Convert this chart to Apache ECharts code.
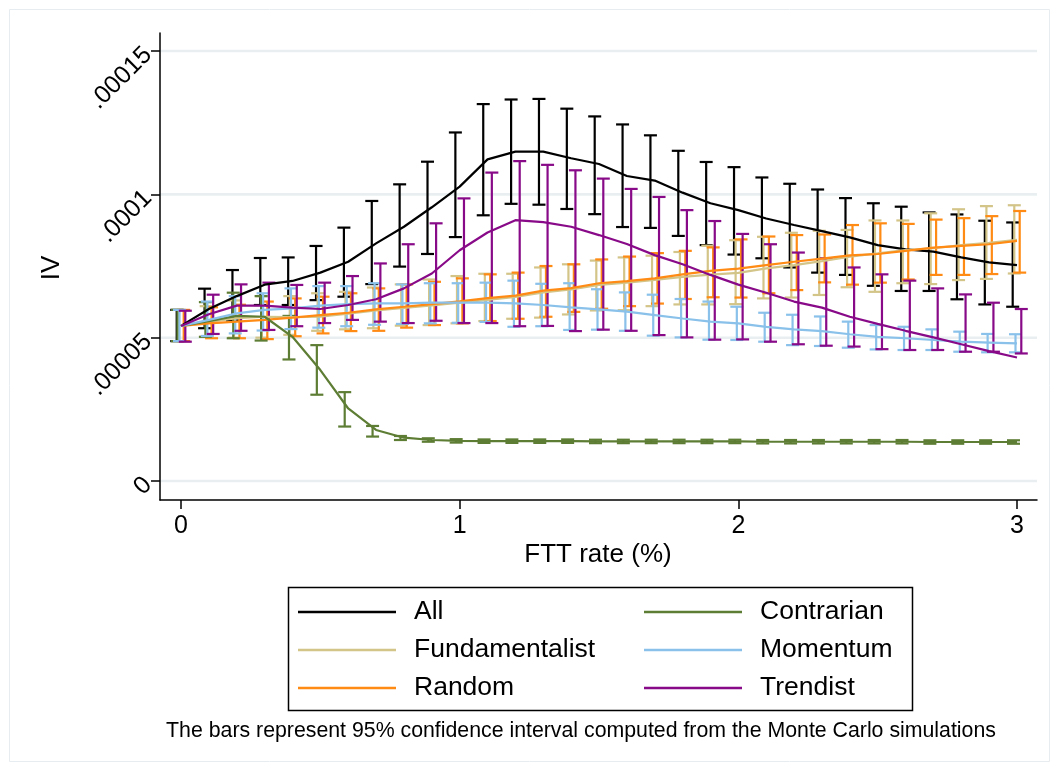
<!DOCTYPE html>
<html>
<head>
<meta charset="utf-8">
<script src="https://cdn.jsdelivr.net/npm/echarts@6/dist/echarts.min.js"></script>
<style>
  html, body { margin: 0; padding: 0; background: #ffffff; }
  #chart { width: 1054px; height: 766px; }
</style>
</head>
<body>
<div id="chart"></div>
<script>
// IV values are written in units of 1e-5 and scaled when the series are built.
const UNIT = 1e-5;

// FTT rate (%)
const fttRate = [0, 0.1, 0.2, 0.3, 0.4, 0.5, 0.6, 0.7, 0.8, 0.9, 1.0, 1.1, 1.2, 1.3, 1.4, 1.5,
                 1.6, 1.7, 1.8, 1.9, 2.0, 2.1, 2.2, 2.3, 2.4, 2.5, 2.6, 2.7, 2.8, 2.9, 3.0];

const allMean = [5.41, 6.00, 6.45, 6.85, 6.98, 7.27, 7.65, 8.29, 8.87, 9.55, 10.27, 11.22, 11.49, 11.49, 11.26, 11.06,
                 10.64, 10.48, 10.06, 9.69, 9.45, 9.16, 8.93, 8.72, 8.50, 8.23, 8.08, 8.00, 7.80, 7.63, 7.53];
const allLo   = [4.88, 5.33, 5.60, 6.14, 6.14, 6.31, 6.43, 6.87, 7.48, 7.92, 8.51, 9.27, 9.67, 9.64, 9.49, 9.31,
                 8.86, 8.83, 8.55, 8.23, 7.90, 7.77, 7.45, 7.27, 7.19, 6.81, 6.63, 6.63, 6.34, 6.16, 6.08];
const allHi   = [5.97, 6.71, 7.36, 7.78, 7.80, 8.20, 8.84, 9.77, 10.35, 11.14, 12.16, 13.15, 13.31, 13.33, 12.99, 12.72,
                 12.44, 12.06, 11.52, 11.13, 10.95, 10.59, 10.37, 10.17, 9.87, 9.69, 9.57, 9.37, 9.30, 9.08, 9.02];

const fundMean = [5.41, 5.55, 5.68, 5.73, 5.72, 5.73, 5.84, 5.95, 6.04, 6.13, 6.22, 6.32, 6.42, 6.58, 6.68, 6.84,
                  6.92, 7.02, 7.12, 7.20, 7.26, 7.42, 7.53, 7.67, 7.83, 7.94, 8.06, 8.12, 8.23, 8.31, 8.41];
const fundLo   = [4.88, 5.03, 5.00, 5.00, 5.10, 5.24, 5.29, 5.33, 5.42, 5.44, 5.50, 5.58, 5.66, 5.70, 5.81, 5.95,
                  5.96, 6.10, 6.16, 6.16, 6.17, 6.37, 6.40, 6.49, 6.76, 6.60, 6.90, 6.87, 7.01, 7.05, 7.24];
const fundHi   = [5.97, 6.10, 6.30, 6.45, 6.45, 6.55, 6.60, 6.75, 6.86, 7.03, 7.15, 7.23, 7.23, 7.45, 7.56, 7.69,
                  7.80, 7.86, 7.99, 8.21, 8.40, 8.52, 8.66, 8.73, 8.76, 9.09, 9.09, 9.34, 9.48, 9.59, 9.62];

const randMean = [5.41, 5.50, 5.56, 5.62, 5.70, 5.79, 5.87, 5.99, 6.08, 6.17, 6.27, 6.38, 6.47, 6.64, 6.73, 6.90,
                  6.97, 7.07, 7.21, 7.33, 7.41, 7.53, 7.65, 7.76, 7.87, 7.92, 8.03, 8.14, 8.20, 8.26, 8.38];
const randLo   = [4.88, 4.98, 4.98, 4.95, 5.05, 5.15, 5.23, 5.24, 5.35, 5.44, 5.50, 5.58, 5.66, 5.73, 5.90, 6.01,
                  6.10, 6.19, 6.35, 6.41, 6.40, 6.55, 6.66, 6.93, 6.85, 6.92, 7.03, 7.19, 7.19, 7.22, 7.27];
const randHi   = [5.97, 6.06, 6.15, 6.26, 6.37, 6.43, 6.55, 6.72, 6.86, 6.95, 7.07, 7.21, 7.27, 7.50, 7.56, 7.73,
                  7.83, 7.95, 8.03, 8.15, 8.43, 8.53, 8.58, 8.60, 8.93, 8.99, 8.97, 9.12, 9.17, 9.24, 9.42];

const contMean = [5.41, 5.58, 5.76, 5.73, 5.03, 3.87, 2.53, 1.78, 1.51, 1.43, 1.40, 1.39, 1.39, 1.39, 1.39, 1.38,
                  1.38, 1.38, 1.38, 1.38, 1.38, 1.37, 1.37, 1.37, 1.37, 1.37, 1.37, 1.36, 1.36, 1.36, 1.36];
const contLo   = [4.88, 5.03, 4.98, 4.90, 4.24, 3.01, 1.90, 1.55, 1.43, 1.37, 1.34, 1.33, 1.33, 1.33, 1.33, 1.32,
                  1.32, 1.32, 1.32, 1.32, 1.32, 1.31, 1.31, 1.31, 1.31, 1.31, 1.31, 1.30, 1.30, 1.30, 1.30];
const contHi   = [5.97, 6.24, 6.57, 6.45, 5.76, 4.74, 3.10, 1.92, 1.57, 1.49, 1.46, 1.45, 1.45, 1.45, 1.45, 1.44,
                  1.44, 1.44, 1.44, 1.44, 1.44, 1.43, 1.43, 1.43, 1.43, 1.43, 1.43, 1.42, 1.42, 1.42, 1.42];

const momMean = [5.41, 5.62, 5.85, 5.97, 6.02, 6.12, 6.17, 6.20, 6.20, 6.22, 6.22, 6.22, 6.20, 6.14, 6.06, 5.99,
                 5.91, 5.79, 5.67, 5.56, 5.50, 5.38, 5.29, 5.23, 5.12, 5.03, 4.98, 4.92, 4.86, 4.83, 4.80];
const momLo   = [4.88, 5.06, 5.15, 5.25, 5.30, 5.35, 5.40, 5.45, 5.48, 5.50, 5.52, 5.55, 5.38, 5.40, 5.27, 5.28,
                 5.24, 5.07, 5.01, 4.93, 4.92, 4.86, 4.74, 4.71, 4.65, 4.59, 4.57, 4.57, 4.51, 4.49, 4.49];
const momHi   = [5.97, 6.26, 6.45, 6.55, 6.72, 6.80, 6.80, 6.90, 6.86, 6.90, 6.90, 6.92, 6.99, 6.88, 6.90, 6.69,
                 6.58, 6.50, 6.35, 6.26, 6.08, 5.87, 5.80, 5.74, 5.56, 5.44, 5.38, 5.29, 5.21, 5.13, 5.12];

const trendMean = [5.41, 5.82, 6.12, 6.12, 6.05, 6.00, 6.14, 6.34, 6.72, 7.24, 8.05, 8.67, 9.10, 9.03, 8.87, 8.58,
                   8.27, 7.88, 7.56, 7.19, 6.85, 6.57, 6.26, 6.05, 5.73, 5.48, 5.24, 5.01, 4.77, 4.53, 4.31];
const trendLo   = [4.86, 5.13, 5.24, 5.27, 5.40, 5.51, 5.62, 5.56, 5.51, 5.59, 5.51, 5.51, 5.40, 5.41, 5.23, 5.28,
                   5.24, 5.09, 5.01, 4.93, 4.94, 4.86, 4.77, 4.72, 4.69, 4.60, 4.57, 4.57, 4.51, 4.51, 4.45];
const trendHi   = [5.94, 6.50, 6.86, 6.92, 6.84, 6.92, 7.15, 7.59, 8.26, 8.99, 9.86, 10.76, 11.16, 11.03, 10.84, 10.55,
                   10.19, 9.91, 9.45, 9.07, 8.62, 8.26, 7.97, 7.77, 7.45, 7.21, 6.99, 6.72, 6.51, 6.22, 6.00];

// Axis ticks
const xTickValues = [0, 1, 2, 3];
const xTickLabels = ['0', '1', '2', '3'];
const yTickValues = [0, 5, 10, 15];          // in units of 1e-5
const yTickLabels = ['0', '.00005', '.0001', '.00015'];

const FONT = '"Liberation Sans", Arial, Helvetica, sans-serif';

// Series definitions: legend name, colour, horizontal shift of the CI caps (px)
const groups = [
  { name: 'All',            color: '#000000', mean: allMean,   lo: allLo,   hi: allHi,   shift: -4.3 },
  { name: 'Fundamentalist', color: '#d3c488', mean: fundMean,  lo: fundLo,  hi: fundHi,  shift: -2.7 },
  { name: 'Random',         color: '#ff8a14', mean: randMean,  lo: randLo,  hi: randHi,  shift: 2.7 },
  { name: 'Contrarian',     color: '#5e7d34', mean: contMean,  lo: contLo,  hi: contHi,  shift: -3.5 },
  { name: 'Momentum',       color: '#89c1ea', mean: momMean,   lo: momLo,   hi: momHi,   shift: -1.5 },
  { name: 'Trendist',       color: '#880a88', mean: trendMean, lo: trendLo, hi: trendHi, shift: 4.3 }
];

const CAP_HALF = 6.5;

function capRenderer(shift, color) {
  return function (params, api) {
    const x = api.value(0);
    const top = api.coord([x, api.value(2)]);
    const bot = api.coord([x, api.value(1)]);
    const cx = top[0] + shift;
    const style = { stroke: color, lineWidth: 2.2, fill: null };
    return {
      type: 'group',
      children: [
        { type: 'line', shape: { x1: cx, y1: top[1], x2: cx, y2: bot[1] }, style: style },
        { type: 'line', shape: { x1: cx - CAP_HALF, y1: top[1], x2: cx + CAP_HALF, y2: top[1] }, style: style },
        { type: 'line', shape: { x1: cx - CAP_HALF, y1: bot[1], x2: cx + CAP_HALF, y2: bot[1] }, style: style }
      ]
    };
  };
}

// horizontal grid line across the plot area at one labelled IV tick
function gridLineRenderer(params, api) {
  const cs = params.coordSys;
  const y = api.coord([0, api.value(0)])[1];
  return {
    type: 'line',
    shape: { x1: cs.x, y1: y, x2: cs.x + cs.width, y2: y },
    style: { stroke: '#e9eff1', lineWidth: 2.6 }
  };
}

const series = [];

series.push({
  name: 'grid',
  type: 'custom',
  silent: true,
  z: 0,
  renderItem: gridLineRenderer,
  encode: { y: 0 },
  data: yTickValues.map(v => [v * UNIT])
});

groups.forEach(g => {
  series.push({
    name: g.name + ' CI',
    type: 'custom',
    z: 2,
    renderItem: capRenderer(g.shift, g.color),
    encode: { x: 0, y: [1, 2] },
    data: fttRate.map((x, i) => [x, g.lo[i] * UNIT, g.hi[i] * UNIT])
  });
});

groups.forEach(g => {
  series.push({
    name: g.name,
    type: 'line',
    z: 3,
    color: g.color,
    symbol: 'none',
    lineStyle: { color: g.color, width: 2.2 },
    data: fttRate.map((x, i) => [x, g.mean[i] * UNIT])
  });
});

const chart = echarts.init(document.getElementById('chart'), null, { renderer: 'canvas' });

const legendBase = {
  orient: 'vertical', top: 597, padding: 0,
  icon: 'rect', itemWidth: 98, itemHeight: 2.5, itemGap: 8,
  selectedMode: false,
  textStyle: { fontFamily: FONT, fontSize: 26.5, color: '#000', lineHeight: 30, padding: [0, 0, 0, 13] }
};

chart.setOption({
  animation: false,
  backgroundColor: '#ffffff',
  grid: { left: 160, right: 17, top: 33, bottom: 266, containLabel: false },
  xAxis: {
    type: 'value',
    min: -0.0754,
    max: 3.0718,
    splitLine: { show: false },
    axisLine: { show: true, onZero: false, lineStyle: { color: '#000', width: 1.5 } },
    axisTick: { show: true, customValues: xTickValues, length: 9, lineStyle: { color: '#000', width: 1.5 } },
    axisLabel: {
      customValues: xTickValues,
      formatter: v => xTickLabels[xTickValues.indexOf(v)],
      fontFamily: FONT, fontSize: 25, color: '#000', margin: 14
    }
  },
  yAxis: {
    type: 'value',
    min: -6.63e-6,
    max: 1.563e-4,
    splitLine: { show: false },
    axisLine: { show: true, onZero: false, lineStyle: { color: '#000', width: 1.5 } },
    axisTick: { show: true, customValues: yTickValues.map(v => v * UNIT), length: 9, lineStyle: { color: '#000', width: 1.5 } },
    axisLabel: {
      customValues: yTickValues.map(v => v * UNIT),
      formatter: v => yTickLabels[yTickValues.indexOf(Math.round(v / UNIT))],
      rotate: 45,
      fontFamily: FONT, fontSize: 25, color: '#000', margin: 12,
      padding: [6, 0, 0, 0]
    }
  },
  legend: [
    Object.assign({}, legendBase, { data: ['All', 'Fundamentalist', 'Random'], left: 298 }),
    Object.assign({}, legendBase, { data: ['Contrarian', 'Momentum', 'Trendist'], left: 644 })
  ],
  graphic: [
    { type: 'rect', left: 7, top: 7, shape: { width: 1040, height: 752 }, style: { fill: null, stroke: '#e6ecef', lineWidth: 1 }, silent: true },
    { type: 'rect', left: 286, top: 585, shape: { width: 624, height: 123 }, style: { fill: null, stroke: '#000', lineWidth: 1.5 }, silent: true },
    { type: 'text', x: 52, y: 268, rotation: Math.PI / 2,
      style: { text: 'IV', font: '26px ' + FONT, fill: '#000', textAlign: 'center', textVerticalAlign: 'middle' } },
    { type: 'text', x: 598, y: 555,
      style: { text: 'FTT rate (%)', font: '26px ' + FONT, fill: '#000', textAlign: 'center', textVerticalAlign: 'middle' } },
    { type: 'text', x: 581, y: 731,
      style: { text: 'The bars represent 95% confidence interval computed from the Monte Carlo simulations',
               font: '21.3px ' + FONT, fill: '#000', textAlign: 'center', textVerticalAlign: 'middle' } }
  ],
  series: series
});
</script>
</body>
</html>
